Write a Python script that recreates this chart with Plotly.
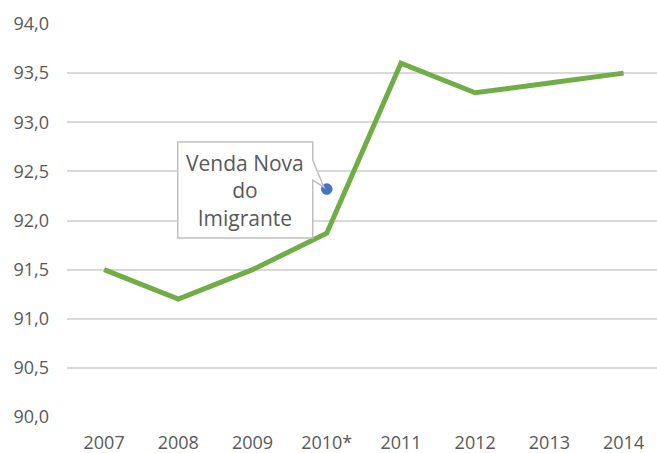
import plotly.graph_objects as go

# ---- data ----
years = ["2007", "2008", "2009", "2010*", "2011", "2012", "2013", "2014"]
values = [91.5, 91.2, 91.5, 91.87, 93.6, 93.3, 93.4, 93.5]
point_category = "2010*"
point_value = 92.32
point_label = "Venda Nova<br>do<br>Imigrante"
y_ticks = [90.0, 90.5, 91.0, 91.5, 92.0, 92.5, 93.0, 93.5, 94.0]

# ---- layout geometry ----
W, H = 657, 453
M = dict(l=67, r=0, t=24, b=36)
x_range = [-0.5, 7.45]
y_range = [90, 94]
plot_w = W - M["l"] - M["r"]
plot_h = H - M["t"] - M["b"]
px_per_x = plot_w / (x_range[1] - x_range[0])
px_per_y = plot_h / (y_range[1] - y_range[0])

grey_text = "#595959"
font_family = "Open Sans"

fig = go.Figure()
fig.add_trace(go.Scatter(
    x=years, y=values, mode="lines",
    line=dict(color="#70ad47", width=5, shape="linear"),
    hoverinfo="skip", showlegend=False, cliponaxis=False,
))

# callout outline built in pixel offsets from the labelled point
px_idx = years.index(point_category)

def to_data(dx, dy):
    return px_idx + dx / px_per_x, point_value - dy / px_per_y

outline_px = [(-149, -47), (-14, -47), (-14, -29), (-3, -2), (-14, -9), (-14, 49), (-149, 49)]
pts = [to_data(dx, dy) for dx, dy in outline_px]
path = "M " + " L ".join(f"{x},{y}" for x, y in pts) + " Z"
fig.add_shape(type="path", path=path, xref="x", yref="y",
              line=dict(color="#bfbfbf", width=1.5), fillcolor="white", layer="above")

fig.add_trace(go.Scatter(
    x=[point_category], y=[point_value], mode="markers",
    marker=dict(color="#4472c4", size=11, line=dict(color="#3a64b0", width=0.5)),
    hoverinfo="skip", showlegend=False,
))

tx, ty = to_data(-81.5, 1)
fig.add_annotation(x=tx, y=ty, xref="x", yref="y", text=point_label,
                   showarrow=False, align="center",
                   font=dict(family=font_family, size=21, color=grey_text))

fig.update_layout(
    width=W, height=H,
    margin=M,
    paper_bgcolor="white", plot_bgcolor="white",
    separators=",.",
    font=dict(family=font_family, size=18, color=grey_text),
    xaxis=dict(type="category", range=x_range, showgrid=False, zeroline=False,
               showline=False, ticks="", automargin=False,
               tickfont=dict(size=18, color=grey_text), ticklabelstandoff=13),
    yaxis=dict(range=y_range, tickvals=y_ticks, tickformat=".1f", automargin=False,
               showgrid=True, gridcolor="#d9d9d9", gridwidth=1.5,
               zeroline=False, showline=False, ticks="",
               tickfont=dict(size=18, color=grey_text), ticklabelstandoff=17),
)

fig.write_html("out.html", config={"displayModeBar": False},
               post_script="document.body.style.margin='0';document.body.style.overflow='hidden';")
